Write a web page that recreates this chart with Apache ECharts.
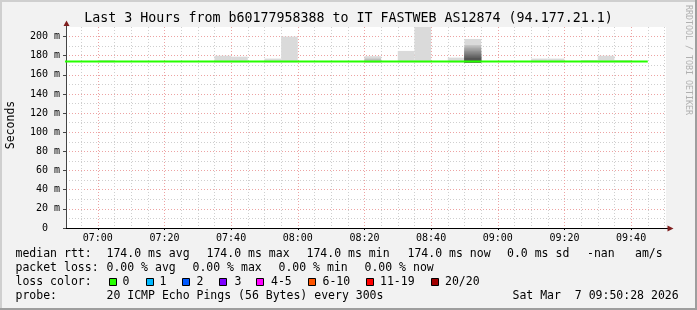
<!DOCTYPE html>
<html><head><meta charset="utf-8">
<script src="https://cdn.jsdelivr.net/npm/echarts@6/dist/echarts.min.js"></script>
<style>html,body{margin:0;padding:0;background:#f2f2f2;}#c{width:697px;height:310px;}</style>
</head><body><div id="c"></div>
<script>
// ---------------- data ----------------
const titleText = 'Last 3 Hours from b60177958388 to IT FASTWEB AS12874 (94.177.21.1)';
const yAxisName = 'Seconds';
const sideText = 'RRDTOOL / TOBI OETIKER';
const xStart = '06:50:28';
const xEnd = '09:50:28';
const xTickLabels = ['07:00','07:20','07:40','08:00','08:20','08:40','09:00','09:20','09:40'];
const yTickValues = [0,20,40,60,80,100,120,140,160,180,200];
const yTickLabels = ['0  ','20 m','40 m','60 m','80 m','100 m','120 m','140 m','160 m','180 m','200 m'];
const yMax = 210;

// median rtt (ms), sampled every 5 minutes
const medianTimes = ['06:50','06:55','07:00','07:05','07:10','07:15','07:20','07:25','07:30','07:35','07:40','07:45',
  '07:50','07:55','08:00','08:05','08:10','08:15','08:20','08:25','08:30','08:35','08:40','08:45',
  '08:50','08:55','09:00','09:05','09:10','09:15','09:20','09:25','09:30','09:35','09:40','09:45'];
const medianValues = [174.0,174.0,174.0,174.0,174.0,174.0,174.0,174.0,174.0,174.0,174.0,174.0,
  174.0,174.0,174.0,174.0,174.0,174.0,174.0,174.0,174.0,174.0,174.0,174.0,
  174.0,174.0,174.0,174.0,174.0,174.0,174.0,174.0,174.0,174.0,174.0,174.0];

// smoke (ping spread) per 5-minute bucket: outer band low/high (ms)
const smokeBuckets = ['07:00','07:35','07:40','07:50','07:55','08:20','08:30','08:35','08:45','08:50','09:10','09:15','09:25','09:30','09:35'];
const smokeLow  = [173,173,173,173,173,173,173,173,173,173,173,173,173,173,173];
const smokeHigh = [175.5,180,179,177,200,179.5,185,215,178,197.5,177,177,175.5,180,175.5];

// inner (denser) smoke bands: bucket, top value, shade level
const bandBuckets = ['08:20','08:50','08:50','08:50','08:50','08:50','08:50','08:50','08:50','08:50','08:50'];
const bandTops    = [177,   191,    189.5,  188,    186.5,  185,    183.5,  182,    180.5,  179,    177.5];
const bandLevels  = [1,     1,      2,      3,      4,      5,      6,      7,      8,      9,      10];

// legend texts
const rttLabel = 'median rtt:';
const rttStats = ['174.0 ms avg','174.0 ms max','174.0 ms min','174.0 ms now','0.0 ms sd','-nan','am/s'];
const lossLabel = 'packet loss:';
const lossStats = ['0.00 % avg','0.00 % max','0.00 % min','0.00 % now'];
const lossColorLabel = 'loss color:';
const lossColorNames = ['0','1','2','3','4-5','6-10','11-19','20/20'];
const probeLabel = 'probe:';
const probeText = '20 ICMP Echo Pings (56 Bytes) every 300s';
const dateText = 'Sat Mar  7 09:50:28 2026';

// ---------------- style / layout ----------------
const lossColors = ['#26ff00','#00b8ff','#0059ff','#7e00ff','#ff00ff','#ff5500','#ff0000','#a10000'];
const rttX = [106.5,206.5,306.5,407.5,507,587,635];
const lossX = [106.5,192.5,278.5,364.5];
const boxX = [109,146,182,219,256,308,366,431];
const boxLabelX = [122.5,159.5,196.5,234.5,271,322.5,380,445];
const MONO = '"DejaVu Sans Mono", monospace';
const G = {left:66, top:27, right:666, bottom:228};

function toMin(s){const p=s.split(':').map(Number);return p[0]*60+p[1]+(p[2]||0)/60;}
const xMin = toMin(xStart), xMax = toMin(xEnd);
const majorVals = xTickLabels.map(toMin);
const minorVals = [];
for (let m = Math.ceil(xMin/5)*5; m < xMax; m += 5) if (m % 20 !== 0) minorVals.push(m);
const yMinorVals = [];
for (let v = 10; v < yMax; v += 10) if (v % 20 !== 0) yMinorVals.push(v);

const chart = echarts.init(document.getElementById('c'), null, {renderer:'canvas'});

function rectItem(params, api, fill){
  const t0 = api.value(0), lo = api.value(1), hi = api.value(2);
  const p0 = api.coord([t0, hi]);
  const p1 = api.coord([t0 + 5, lo]);
  return {type:'rect', shape:{x:p0[0], y:p0[1], width:p1[0]-p0[0], height:p1[1]-p0[1]}, style:{fill:fill}};
}

const smokeData = smokeBuckets.map((b,i)=>[toMin(b), smokeLow[i], smokeHigh[i]]);
const bandData = bandBuckets.map((b,i)=>[toMin(b), 173, bandTops[i], bandLevels[i]]);
function shade(level){const g = Math.round(204 - level*12);return 'rgb('+g+','+g+','+g+')';}

const minorLine = {color:'#cfcfcf', type:[1,2], width:1};
const majorLine = {color:'#eda3a3', type:[1,2], width:1};

const option = {
  animation:false,
  backgroundColor:'#f2f2f2',
  grid:{left:G.left, top:G.top, width:G.right-G.left, height:G.bottom-G.top, show:true, backgroundColor:'#ffffff', borderWidth:0},
  xAxis:[
    {type:'value', position:'bottom', min:xMin, max:xMax, axisLine:{show:false}, axisLabel:{show:false},
     axisTick:{show:false, customValues:minorVals}, splitLine:{show:true, lineStyle:minorLine}},
    {type:'value', position:'bottom', min:xMin, max:xMax,
     axisLine:{show:true, onZero:false, lineStyle:{color:'#000', width:1}},
     axisTick:{show:true, customValues:majorVals, length:2, lineStyle:{color:'#000'}},
     axisLabel:{customValues:majorVals, margin:5, color:'#000', fontFamily:MONO, fontSize:10,
       formatter:(v)=>{const i = majorVals.findIndex(m=>Math.abs(m-v)<1e-6);return i>=0?xTickLabels[i]:'';}},
     splitLine:{show:true, lineStyle:majorLine}}
  ],
  yAxis:[
    {type:'value', position:'left', min:0, max:yMax, axisLine:{show:false}, axisLabel:{show:false},
     axisTick:{show:false, customValues:yMinorVals}, splitLine:{show:true, lineStyle:minorLine}},
    {type:'value', position:'left', min:0, max:yMax,
     axisLine:{show:true, onZero:false, lineStyle:{color:'#444', width:1}},
     axisTick:{show:true, customValues:yTickValues, length:3, lineStyle:{color:'#444'}},
     axisLabel:{customValues:yTickValues, margin:6, color:'#000', fontFamily:MONO, fontSize:10,
       formatter:(v)=>{const i = yTickValues.indexOf(Math.round(v));return i>=0?yTickLabels[i]:'';}},
     splitLine:{show:true, lineStyle:majorLine}}
  ],
  series:[
    {type:'custom', name:'smoke', xAxisIndex:1, yAxisIndex:1, clip:true, z:2,
     renderItem:(p,api)=>rectItem(p,api,'#dadada'), data:smokeData},
    {type:'custom', name:'smoke-inner', xAxisIndex:1, yAxisIndex:1, clip:true, z:3,
     renderItem:(p,api)=>rectItem(p,api,shade(api.value(3))), data:bandData},
    {type:'line', name:'median rtt', xAxisIndex:1, yAxisIndex:1, z:5, clip:true,
     showSymbol:false, symbol:'none',
     lineStyle:{color:'#26ff00', width:2},
     data:medianTimes.map((t,i)=>[toMin(t), medianValues[i]])}
  ]
};
chart.setOption(option);

// ---------------- decorations / texts ----------------
const gfx = [];
function txt(s, x, y, size){
  return {type:'text', x:x, y:y, silent:true, style:{text:s, fill:'#000', font:size+'px '+MONO, textAlign:'left', textVerticalAlign:'middle'}};
}
// frame
gfx.push({type:'rect', shape:{x:0,y:0,width:697,height:2}, style:{fill:'#cfcfcf'}, silent:true});
gfx.push({type:'rect', shape:{x:0,y:0,width:2,height:310}, style:{fill:'#cfcfcf'}, silent:true});
gfx.push({type:'rect', shape:{x:0,y:308,width:697,height:2}, style:{fill:'#9e9e9e'}, silent:true});
gfx.push({type:'rect', shape:{x:695,y:0,width:2,height:310}, style:{fill:'#9e9e9e'}, silent:true});
// arrows
gfx.push({type:'line', shape:{x1:G.left+0.5,y1:G.top,x2:G.left+0.5,y2:G.top-2}, style:{stroke:'#444',lineWidth:1}, silent:true});
gfx.push({type:'polygon', shape:{points:[[G.left+0.5,20.5],[G.left-2.5,26],[G.left+3.5,26]]}, style:{fill:'#7f1f1f'}, silent:true});
gfx.push({type:'line', shape:{x1:G.right,y1:G.bottom+0.5,x2:G.right+2,y2:G.bottom+0.5}, style:{stroke:'#000',lineWidth:1}, silent:true});
gfx.push({type:'polygon', shape:{points:[[G.right+7.5,G.bottom+0.5],[G.right+1.5,G.bottom-2.5],[G.right+1.5,G.bottom+3.5]]}, style:{fill:'#7f1f1f'}, silent:true});
// title
gfx.push({type:'text', x:348.5, y:19, silent:true, style:{text:titleText, fill:'#000', font:'13.3px '+MONO, textAlign:'center', textVerticalAlign:'middle'}});
// y axis name
gfx.push({type:'text', x:11, y:125, rotation:Math.PI/2, silent:true,
  style:{text:yAxisName, fill:'#000', font:'11.5px '+MONO, textAlign:'center', textVerticalAlign:'middle'}});
// side text
gfx.push({type:'text', x:688, y:5, rotation:-Math.PI/2, silent:true,
  style:{text:sideText, fill:'#b0b0b0', font:'8.3px '+MONO, textAlign:'left', textVerticalAlign:'middle'}});
// legend rows
const LF = 11.5;
const rowY = [254.3, 268.3, 282.3, 296.3];
gfx.push(txt(rttLabel, 15.5, rowY[0], LF));
rttStats.forEach((s,i)=>gfx.push(txt(s, rttX[i], rowY[0], LF)));
gfx.push(txt(lossLabel, 15.5, rowY[1], LF));
lossStats.forEach((s,i)=>gfx.push(txt(s, lossX[i], rowY[1], LF)));
gfx.push(txt(lossColorLabel, 15.5, rowY[2], LF));
lossColorNames.forEach((s,i)=>{
  gfx.push({type:'rect', shape:{x:boxX[i]+0.5, y:278.5, width:7, height:7}, style:{fill:lossColors[i], stroke:'#000', lineWidth:1}, silent:true});
  gfx.push(txt(s, boxLabelX[i], rowY[2], LF));
});
gfx.push(txt(probeLabel, 15.5, rowY[3], LF));
gfx.push(txt(probeText, 106.5, rowY[3], LF));
gfx.push(txt(dateText, 512.5, rowY[3], LF));

chart.setOption({graphic:gfx});
</script>
</body></html>
